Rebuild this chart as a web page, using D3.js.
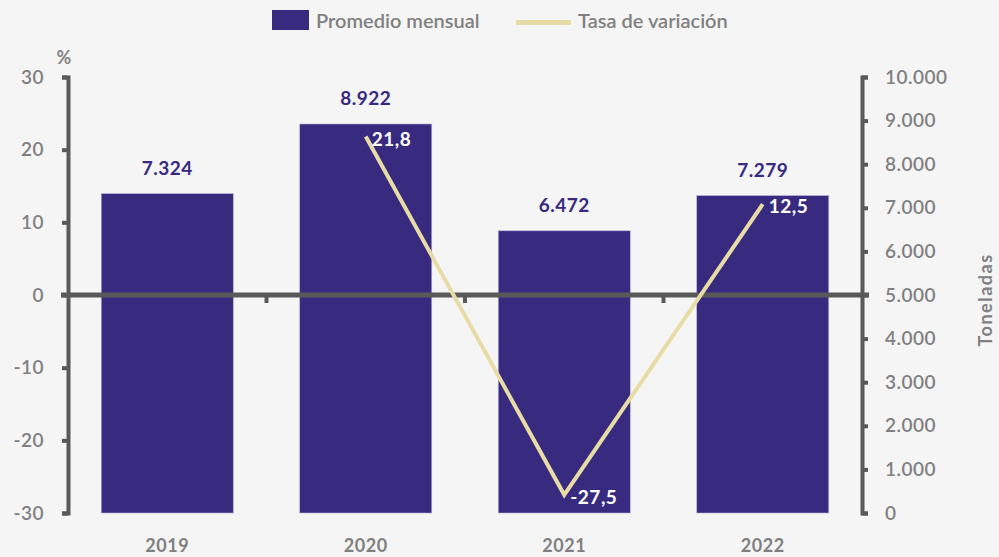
<!DOCTYPE html>
<html>
<head>
<meta charset="utf-8">
<script src="https://cdn.jsdelivr.net/npm/d3@7"></script>
<style>
  html, body { margin: 0; padding: 0; background: #f5f5f5; }
  svg { display: block; font-family: Lato, "Open Sans", sans-serif; }
</style>
</head>
<body>
<svg id="chart" width="999" height="557"></svg>
<script>
// Categories and series
const years = ["2019", "2020", "2021", "2022"];
const promedioMensual = [7324, 8922, 6472, 7279];        // toneladas
const tasaVariacion = [null, 21.8, -27.5, 12.5];          // %
const leftTicks = [-30, -20, -10, 0, 10, 20, 30];
const rightTicks = [0, 1000, 2000, 3000, 4000, 5000, 6000, 7000, 8000, 9000, 10000];

const barColor = "#372a7f";
const lineColor = "#e8dca6";
const axisColor = "#595959";
const textGrey = "#808080";

const svg = d3.select("#chart");
const plotLeft = 68, plotRight = 862, plotTop = 77, plotBottom = 513;

const x = d3.scaleBand().domain(years).range([plotLeft, plotRight]).paddingInner(0.335).paddingOuter(0.1675);
const yPct = d3.scaleLinear().domain([-30, 30]).range([plotBottom, plotTop]);
const yTon = d3.scaleLinear().domain([0, 10000]).range([plotBottom, plotTop]);

const fmtTon = v => d3.format(",")(v).replace(/,/g, ".");
const fmtPct = v => d3.format(".1f")(v).replace(".", ",").replace("\u2212", "-");

// Bars
svg.append("g").selectAll("rect").data(years).join("rect")
  .attr("x", d => x(d))
  .attr("width", x.bandwidth())
  .attr("y", (d, i) => yTon(promedioMensual[i]))
  .attr("height", (d, i) => yTon(0) - yTon(promedioMensual[i]))
  .attr("fill", barColor)
  .attr("stroke", "#b4acd8").attr("stroke-width", 0.6);

// Bar value labels
svg.append("g").selectAll("text").data(years).join("text")
  .attr("x", d => x(d) + x.bandwidth() / 2)
  .attr("y", (d, i) => yTon(promedioMensual[i]) - 19)
  .attr("text-anchor", "middle")
  .attr("fill", barColor).attr("font-weight", 700).attr("font-size", 19)
  .attr("letter-spacing", 0.5)
  .text((d, i) => fmtTon(promedioMensual[i]));

// Left axis (%)
const gL = svg.append("g").attr("transform", `translate(${plotLeft},0)`)
  .call(d3.axisLeft(yPct).tickValues(leftTicks).tickSize(6).tickPadding(18).tickFormat(d => String(d)));
gL.select(".domain").attr("stroke", axisColor).attr("stroke-width", 4);
gL.selectAll(".tick line").attr("stroke", axisColor).attr("stroke-width", 4);
gL.selectAll(".tick text").attr("fill", textGrey).attr("font-size", 19).attr("font-weight", 600)
  .attr("letter-spacing", 0.5).attr("font-family", "Lato, sans-serif");

svg.append("text").attr("x", 64).attr("y", 64).attr("text-anchor", "middle")
  .attr("fill", textGrey).attr("font-size", 18).attr("font-weight", 700).text("%");

// Right axis (toneladas)
const gR = svg.append("g").attr("transform", `translate(${plotRight},0)`)
  .call(d3.axisRight(yTon).tickValues(rightTicks).tickSize(6).tickPadding(17).tickFormat(fmtTon));
gR.select(".domain").attr("stroke", axisColor).attr("stroke-width", 4);
gR.selectAll(".tick line").attr("stroke", axisColor).attr("stroke-width", 4);
gR.selectAll(".tick text").attr("fill", textGrey).attr("font-size", 19).attr("font-weight", 600)
  .attr("letter-spacing", 0.5).attr("font-family", "Lato, sans-serif");

svg.append("text")
  .attr("transform", `translate(992,300) rotate(-90)`)
  .attr("text-anchor", "middle").attr("fill", textGrey)
  .attr("font-size", 18).attr("font-weight", 700).attr("letter-spacing", 1.5).text("Toneladas");

// Zero line with category ticks
svg.append("line")
  .attr("x1", plotLeft - 7).attr("x2", plotRight + 7)
  .attr("y1", yPct(0)).attr("y2", yPct(0))
  .attr("stroke", axisColor).attr("stroke-width", 5);
svg.append("g").selectAll("line").data(years.slice(1)).join("line")
  .attr("x1", d => x(d) - x.step() * x.paddingInner() / 2)
  .attr("x2", d => x(d) - x.step() * x.paddingInner() / 2)
  .attr("y1", yPct(0)).attr("y2", yPct(0) + 8)
  .attr("stroke", axisColor).attr("stroke-width", 4);

// Category labels
svg.append("g").selectAll("text").data(years).join("text")
  .attr("x", d => x(d) + x.bandwidth() / 2)
  .attr("y", 552)
  .attr("text-anchor", "middle").attr("fill", textGrey)
  .attr("font-size", 18).attr("font-weight", 700).attr("letter-spacing", 0.5).text(d => d);

// Variation line
const pts = years.map((d, i) => ({ year: d, v: tasaVariacion[i] })).filter(p => p.v !== null);
svg.append("path").datum(pts)
  .attr("fill", "none").attr("stroke", lineColor).attr("stroke-width", 4)
  .attr("d", d3.line().x(p => x(p.year) + x.bandwidth() / 2).y(p => yPct(p.v)));

svg.append("g").selectAll("text").data(pts).join("text")
  .attr("x", p => x(p.year) + x.bandwidth() / 2 + 6)
  .attr("y", p => yPct(p.v) + 9)
  .attr("fill", "#ffffff").attr("font-size", 19).attr("font-weight", 700)
  .attr("letter-spacing", 0.5)
  .text(p => fmtPct(p.v));

// Legend
const lg = svg.append("g");
lg.append("rect").attr("x", 272).attr("y", 10).attr("width", 37).attr("height", 20).attr("fill", barColor);
lg.append("text").attr("x", 316).attr("y", 28).attr("fill", textGrey)
  .attr("font-size", 20).attr("font-weight", 600).text("Promedio mensual");
lg.append("line").attr("x1", 516).attr("x2", 571).attr("y1", 22.5).attr("y2", 22.5)
  .attr("stroke", lineColor).attr("stroke-width", 5);
lg.append("text").attr("x", 578).attr("y", 28).attr("fill", textGrey)
  .attr("font-size", 20).attr("font-weight", 600).text("Tasa de variación");
</script>
</body>
</html>
